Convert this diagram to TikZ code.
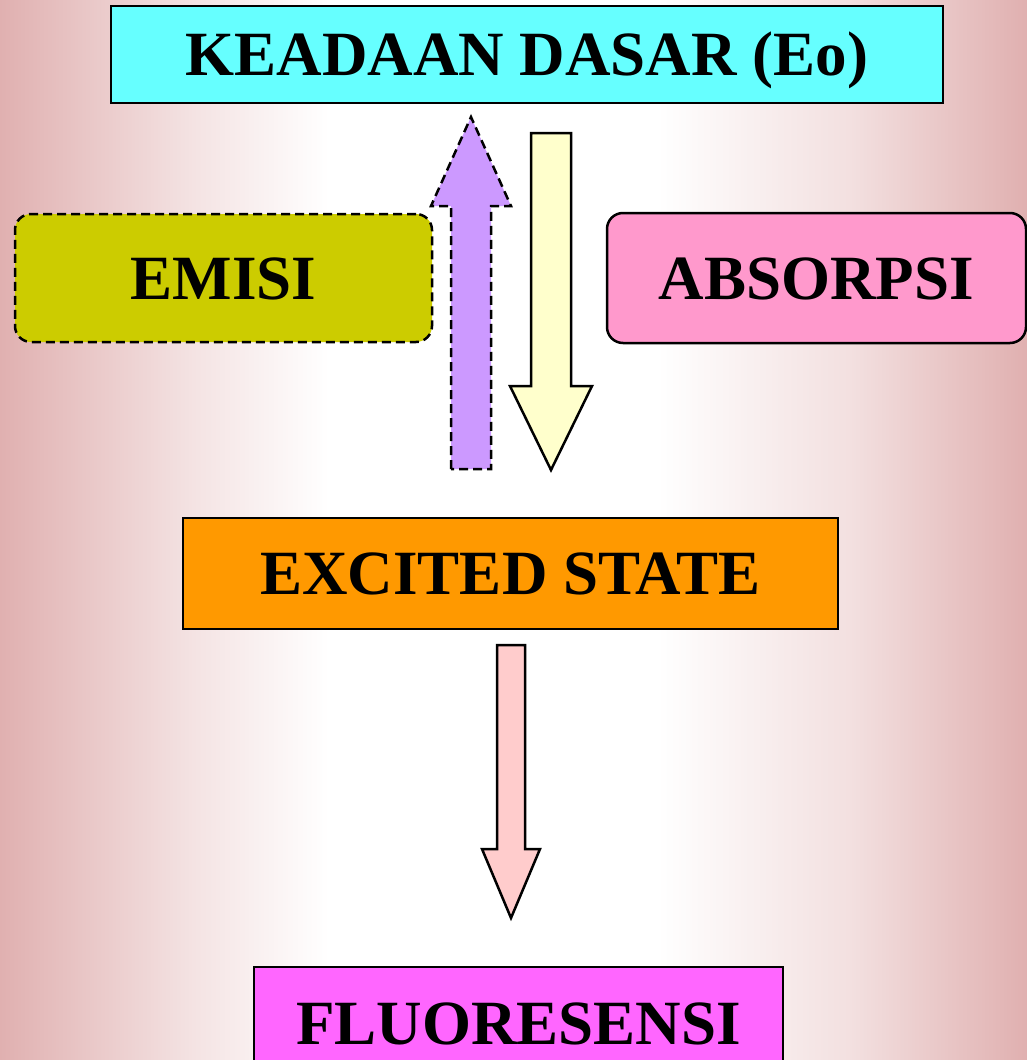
\documentclass[tikz,border=0pt]{standalone}
\usepackage{fontspec}
\setmainfont{Liberation Serif}
\usetikzlibrary{
	calc,
	positioning,
	backgrounds
}
\definecolor{fondo}{RGB}{224,176,176}
\definecolor{cdasar}{HTML}{66FFFF}
\definecolor{cemisi}{HTML}{CCCC00}
\definecolor{cabsorpsi}{HTML}{FF99CC}
\definecolor{cexcited}{HTML}{FF9900}
\definecolor{cfluor}{HTML}{FF66FF}
\definecolor{fungu}{HTML}{CC99FF}
\definecolor{fkuning}{HTML}{FFFFCC}
\definecolor{fmerah}{HTML}{FFCCCC}
\pgfdeclarehorizontalshading{latar}{100bp}{color(0bp)=(fondo); color(25bp)=(fondo);
	color(34.5bp)=(fondo!35!white); color(41bp)=(white); color(57bp)=(white);
	color(66.5bp)=(fondo!40!white); color(75bp)=(fondo); color(100bp)=(fondo)}
% flecha gruesa: estilo, cola, punta, medio cuerpo, media cabeza, largo cabeza
\newcommand{\flecha}[6]{%
	\coordinate (fb) at ($(#3)!#6!(#2)$);
	\draw[#1] ($(#2)+(-#4,0)$) -- ($(fb)+(-#4,0)$) -- ($(fb)+(-#5,0)$) -- (#3)
	-- ($(fb)+(#5,0)$) -- ($(fb)+(#4,0)$) -- ($(#2)+(#4,0)$) -- cycle;}

\begin{document}
\begin{tikzpicture}[x=0.5pt, y=-0.5pt,
	caja/.style={draw=black, line width=1.25pt, inner sep=0pt,
		font=\bfseries\fontsize{31.5}{36}\selectfont, text height=21pt, text depth=0pt},
	redonda/.style={caja, rounded corners=8pt},
	putus/.style={dash pattern=on 4.5pt off 2.5pt},
	gruesa/.style={draw=black, line width=1.25pt, line join=miter}]
\useasboundingbox (0,0) rectangle (1027,1060);
\shade[shading=latar] (0,0) rectangle (1027,1060);

\node[caja, fill=cdasar, minimum width=416pt, minimum height=48.5pt] (dasar) at (527,54.5) {KEADAAN DASAR (Eo)};
\node[redonda, putus, fill=cemisi, minimum width=208.5pt, minimum height=64pt] (emisi) at (223.5,278) {EMISI};
\node[redonda, fill=cabsorpsi, minimum width=209.5pt, minimum height=65pt] (absorpsi) at (816.5,278) {ABSORPSI};
\node[caja, fill=cexcited, minimum width=327.5pt, minimum height=55.5pt] (excited) at (510.5,573.5) {EXCITED STATE};
\node[caja, fill=cfluor, minimum width=264.5pt, minimum height=56.5pt] (fluor) at (518.5,1023.5) {FLUORESENSI};

\coordinate (emiA) at (471,469);   \coordinate (emiB) at (471,117);
\coordinate (absA) at (551,133);   \coordinate (absB) at (551,470);
\coordinate (fluA) at (511,645);   \coordinate (fluB) at (511,918);

\flecha{gruesa, putus, fill=fungu}{emiA}{emiB}{20}{40}{44.5pt}
\flecha{gruesa, fill=fkuning}{absA}{absB}{20}{41}{42pt}
\flecha{gruesa, fill=fmerah}{fluA}{fluB}{14}{29}{34.5pt}
\end{tikzpicture}
\end{document}
